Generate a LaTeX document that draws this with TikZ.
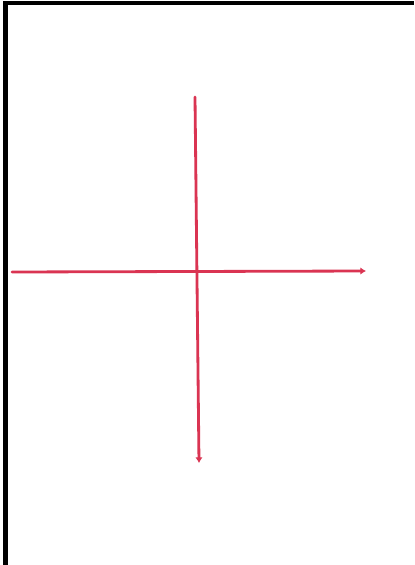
\documentclass[tikz,border=0pt]{standalone}
\usepackage{xcolor}
\usepackage{tikz}
\usetikzlibrary{arrows.meta}

\definecolor{penred}{RGB}{218,52,82}

\begin{document}
\begin{tikzpicture}[x=0.02cm,y=-0.02cm,
  axis/.style={draw=penred,line width=1.6pt,line cap=round,-{Latex[length=3.2pt,width=4.2pt]}},
  frameline/.style={draw=black,line width=2.6pt}]
\useasboundingbox (0,0) rectangle (414,565);
\fill[white] (0,0) rectangle (414,565);
% page edges of the scan
\draw[frameline] (5.5,565) -- (5.5,3) -- (414,3);
% the two strokes
\coordinate (vtop) at (195,97);
\coordinate (vbot) at (199,463);
\coordinate (hleft) at (12,272);
\coordinate (hright) at (366,271);
\draw[axis] (vtop) -- (vbot);
\draw[axis] (hleft) -- (hright);
\end{tikzpicture}
\end{document}
